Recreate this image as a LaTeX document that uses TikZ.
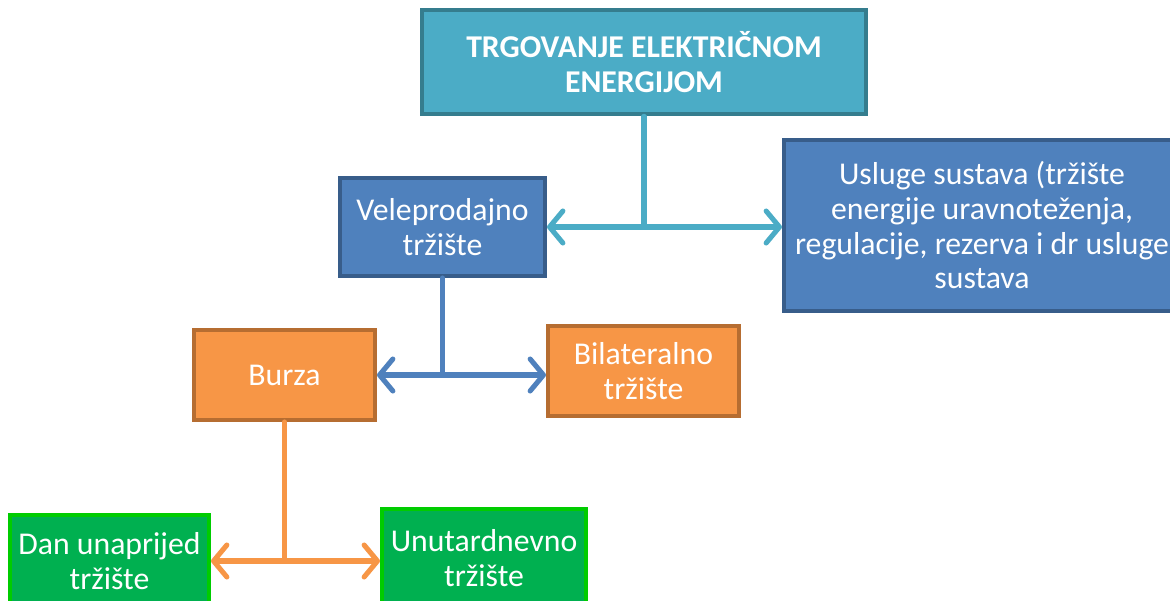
\documentclass[tikz,border=0pt]{standalone}
\usepackage{fontspec}
\setmainfont{Carlito}
\usepackage{tikz}
\usetikzlibrary{positioning, arrows.meta}
\definecolor{tealfill}{HTML}{4BACC6}
\definecolor{tealdraw}{HTML}{357D8E}
\definecolor{bluefill}{HTML}{4F81BD}
\definecolor{bluedraw}{HTML}{385D8A}
\definecolor{orangefill}{HTML}{F79646}
\definecolor{orangedraw}{HTML}{B66D31}
\definecolor{greenfill}{HTML}{00B050}
\definecolor{greendraw}{HTML}{00CC00}
\tikzset{
    marketbox/.style={rectangle, draw, line width=3pt, text=white, align=center,
        inner sep=2pt, font=\fontsize{23.8}{26}\selectfont},
    titlebox/.style={marketbox, fill=tealfill, draw=tealdraw, line width=3.5pt, font=\fontsize{23.8}{26}\selectfont\bfseries},
    bluebox/.style={marketbox, fill=bluefill, draw=bluedraw},
    orangebox/.style={marketbox, fill=orangefill, draw=orangedraw},
    greenbox/.style={marketbox, fill=greenfill, draw=greendraw},
    link/.style={line width=3.8pt, line cap=round},
    linkarrow/.style={link, -{Straight Barb[length=10pt, width=24pt, round]}}
}

\begin{document}
\begin{tikzpicture}[x=0.75pt, y=-0.75pt]
        \useasboundingbox (0,0) rectangle (1170,600);
        \clip (0,0) rectangle (1170,600);
        % boxes
        \node[titlebox, minimum width=333pt, minimum height=78pt] (title) at (644,62) {TRGOVANJE ELEKTRIČNOM\\ENERGIJOM};
        \node[bluebox, minimum width=153.75pt, minimum height=73.5pt] (velep) at (442.5,227) {Veleprodajno\\tržište};
        \node[bluebox, minimum width=297pt, minimum height=128.25pt] (usluge) at (982,225.5) {Usluge sustava (tržište\\energije uravnoteženja,\\regulacije, rezerva i dr usluge\\sustava};
        \node[orangebox, minimum width=135.75pt, minimum height=67.5pt] (burza) at (284.5,375) {Burza};
        \node[orangebox, minimum width=143.25pt, minimum height=67.5pt] (bilat) at (643.5,371) {Bilateralno\\tržište};
        \node[greenbox, minimum width=149.25pt, minimum height=69pt] (dan) at (109.5,561) {Dan unaprijed\\tržište};
        \node[greenbox, minimum width=153pt, minimum height=73.5pt] (unut) at (484,558) {Unutardnevno\\tržište};
        % connectors
        \draw[link, tealfill] (title.south) -- (title.south |- velep.east) coordinate (j1);
        \draw[linkarrow, tealfill] (j1) -- (velep.east);
        \draw[linkarrow, tealfill] (j1) -- (usluge.west |- j1);
        \draw[link, bluefill] (velep.south) -- (velep.south |- burza.east) coordinate (j2);
        \draw[linkarrow, bluefill] (j2) -- (burza.east);
        \draw[linkarrow, bluefill] (j2) -- (bilat.west |- j2);
        \draw[link, orangefill] (burza.south) -- (burza.south |- dan.east) coordinate (j3);
        \draw[linkarrow, orangefill] (j3) -- (dan.east);
        \draw[linkarrow, orangefill] (j3) -- (unut.west |- j3);
    \end{tikzpicture}
\end{document}
